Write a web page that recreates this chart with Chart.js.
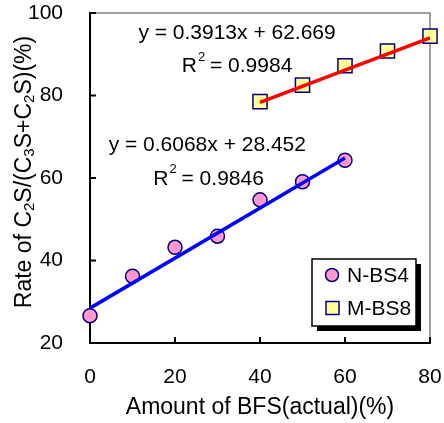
<!DOCTYPE html>
<html>
<head>
<meta charset="utf-8">
<script src="https://cdn.jsdelivr.net/npm/chart.js@4/dist/chart.umd.min.js"></script>
<style>
  body { margin: 0; background: #fff; }
  canvas { display: block; }
</style>
</head>
<body>
<canvas id="chart" width="444" height="423"></canvas>
<script>
// measured points
var nbs4X = [0, 10, 20, 30, 40, 50, 60];
var nbs4Y = [26.6, 36.2, 43.2, 45.9, 54.7, 59.1, 64.3];
var mbs8X = [40, 50, 60, 70, 80];
var mbs8Y = [78.5, 82.5, 87.2, 90.8, 94.4];

// trendline ends (from the fitted equations)
var nbs4TrendX = [0, 60];
var nbs4TrendY = [28.45, 64.86];
var mbs8TrendX = [40, 80];
var mbs8TrendY = [78.32, 93.97];

var seriesNames = ['N-BS4', 'M-BS8'];
var xTicks = [0, 20, 40, 60, 80];
var yTicks = [20, 40, 60, 80, 100];

// equation labels: [text, superscript?, x, y] in data units
var eqLabels = [
    ['y = 0.3913x + 62.669', false, 34.6, 95.0],
    ['= 0.9984', true, 34.6, 87.1],
    ['y = 0.6068x + 28.452', false, 27.6, 67.9],
    ['= 0.9846', true, 27.9, 59.8]
];

var FONT = '"Liberation Sans", Arial, sans-serif';

function toPoints(xs, ys) {
    return xs.map(function (x, i) { return { x: x, y: ys[i] }; });
}

var extras = {
    id: 'extras',
    beforeDatasetsDraw: function (chart) {
        var ctx = chart.ctx, a = chart.chartArea;
        var xs = chart.scales.x, ys = chart.scales.y;
        ctx.save();
        // top and right frame
        ctx.strokeStyle = '#808080';
        ctx.lineWidth = 1.5;
        ctx.beginPath();
        ctx.moveTo(a.left, a.top);
        ctx.lineTo(a.right, a.top);
        ctx.lineTo(a.right, a.bottom);
        ctx.stroke();
        // inward tick marks
        ctx.strokeStyle = '#000';
        ctx.lineWidth = 2;
        ctx.beginPath();
        yTicks.forEach(function (v) {
            var p = ys.getPixelForValue(v);
            ctx.moveTo(a.left, p);
            ctx.lineTo(a.left + 6, p);
        });
        xTicks.forEach(function (v) {
            var p = xs.getPixelForValue(v);
            ctx.moveTo(p, a.bottom);
            ctx.lineTo(p, a.bottom - 6);
        });
        ctx.stroke();
        ctx.restore();
    },
    afterDraw: function (chart) {
        var ctx = chart.ctx, a = chart.chartArea;
        var xs = chart.scales.x, ys = chart.scales.y;
        ctx.save();

        // equations
        ctx.fillStyle = '#000';
        ctx.textBaseline = 'middle';
        eqLabels.forEach(function (e) {
            var px = xs.getPixelForValue(e[2]);
            var py = ys.getPixelForValue(e[3]);
            ctx.font = '21px ' + FONT;
            if (!e[1]) {
                ctx.textAlign = 'center';
                ctx.fillText(e[0], px, py);
            } else {
                var wR = ctx.measureText('R').width;
                var wRest = ctx.measureText(' ' + e[0]).width;
                ctx.font = '13px ' + FONT;
                var wSup = ctx.measureText('2').width;
                var x0 = px - (wR + wSup + wRest) / 2;
                ctx.textAlign = 'left';
                ctx.font = '21px ' + FONT;
                ctx.fillText('R', x0, py);
                ctx.font = '13px ' + FONT;
                ctx.fillText('2', x0 + wR + 1, py - 9);
                ctx.font = '21px ' + FONT;
                ctx.fillText(' ' + e[0], x0 + wR + wSup, py);
            }
        });

        // y axis title with subscripts
        var parts = [['Rate of C', 0], ['2', 1], ['S/(C', 0], ['3', 1], ['S+C', 0], ['2', 1], ['S)(%)', 0]];
        var big = '23px ' + FONT, small = '15px ' + FONT;
        var total = 0;
        parts.forEach(function (p) {
            ctx.font = p[1] ? small : big;
            p.push(ctx.measureText(p[0]).width);
            total += p[2];
        });
        ctx.translate(31, (a.top + a.bottom) / 2 - 6);
        ctx.rotate(-Math.PI / 2);
        ctx.textAlign = 'left';
        ctx.textBaseline = 'alphabetic';
        var cx = -total / 2;
        parts.forEach(function (p) {
            ctx.font = p[1] ? small : big;
            ctx.fillText(p[0], cx, p[1] ? 3 : 0);
            cx += p[2];
        });
        ctx.setTransform(1, 0, 0, 1, 0, 0);

        // legend box with shadow
        var w = 104, h = 67;
        var bx = a.right - 14 - w, by = a.bottom - 17 - h;
        ctx.fillStyle = '#000';
        ctx.fillRect(bx + 5, by + 5, w, h);
        ctx.fillStyle = '#fff';
        ctx.fillRect(bx, by, w, h);
        ctx.strokeStyle = '#000';
        ctx.lineWidth = 1.5;
        ctx.strokeRect(bx, by, w, h);

        var sets = [chart.data.datasets[2], chart.data.datasets[3]];
        sets.forEach(function (ds, i) {
            var my = by + 16 + i * 33;
            ctx.fillStyle = ds.backgroundColor;
            ctx.strokeStyle = ds.borderColor;
            ctx.lineWidth = 1.5;
            ctx.beginPath();
            if (ds.pointStyle === 'circle') {
                ctx.arc(bx + 20, my, 6.5, 0, Math.PI * 2);
            } else {
                ctx.rect(bx + 14, my - 6.5, 13, 13);
            }
            ctx.fill();
            ctx.stroke();
            ctx.fillStyle = '#000';
            ctx.font = '21px ' + FONT;
            ctx.textAlign = 'left';
            ctx.textBaseline = 'middle';
            ctx.fillText(seriesNames[i], bx + 35, my + 1);
        });
        ctx.restore();
    }
};

new Chart(document.getElementById('chart'), {
    type: 'scatter',
    data: {
        datasets: [
            {
                label: 'N-BS4 fit',
                data: toPoints(nbs4TrendX, nbs4TrendY),
                showLine: true,
                borderColor: '#0000FF',
                borderWidth: 3.5,
                pointRadius: 0,
                order: 0
            },
            {
                label: 'M-BS8 fit',
                data: toPoints(mbs8TrendX, mbs8TrendY),
                showLine: true,
                borderColor: '#FF0000',
                borderWidth: 3.5,
                pointRadius: 0,
                order: 0
            },
            {
                label: seriesNames[0],
                data: toPoints(nbs4X, nbs4Y),
                pointStyle: 'circle',
                pointRadius: 7,
                backgroundColor: '#FF99CC',
                borderColor: '#000080',
                borderWidth: 1.5,
                clip: false,
                order: 1
            },
            {
                label: seriesNames[1],
                data: toPoints(mbs8X, mbs8Y),
                pointStyle: 'rect',
                pointRadius: 10,
                backgroundColor: '#FFFF99',
                borderColor: '#000080',
                borderWidth: 1.5,
                clip: false,
                order: 1
            }
        ]
    },
    options: {
        responsive: false,
        animation: false,
        layout: { padding: { top: 13, right: 14, left: 0, bottom: 0 } },
        plugins: {
            legend: { display: false },
            tooltip: { enabled: false }
        },
        scales: {
            x: {
                type: 'linear',
                min: 0,
                max: 80,
                afterBuildTicks: function (s) { s.ticks = xTicks.map(function (v) { return { value: v }; }); },
                afterFit: function (s) {
                    s.height = 80;
                    s.paddingLeft = 12;
                    s.paddingRight = 12;
                },
                grid: { drawOnChartArea: false, drawTicks: false },
                border: { color: '#000', width: 2 },
                ticks: { color: '#000', padding: 22, font: { size: 21, family: FONT } },
                title: {
                    display: true,
                    text: 'Amount of BFS(actual)(%)',
                    color: '#000',
                    font: { size: 23, family: FONT },
                    padding: { top: 0, bottom: 2 }
                }
            },
            y: {
                type: 'linear',
                min: 20,
                max: 100,
                afterBuildTicks: function (s) { s.ticks = yTicks.map(function (v) { return { value: v }; }); },
                afterFit: function (s) {
                    s.width = 90;
                    s.paddingTop = 12;
                    s.paddingBottom = 12;
                },
                grid: { drawOnChartArea: false, drawTicks: false },
                border: { color: '#000', width: 2 },
                ticks: { color: '#000', padding: 27, font: { size: 21, family: FONT } }
            }
        }
    },
    plugins: [extras]
});
</script>
</body>
</html>
